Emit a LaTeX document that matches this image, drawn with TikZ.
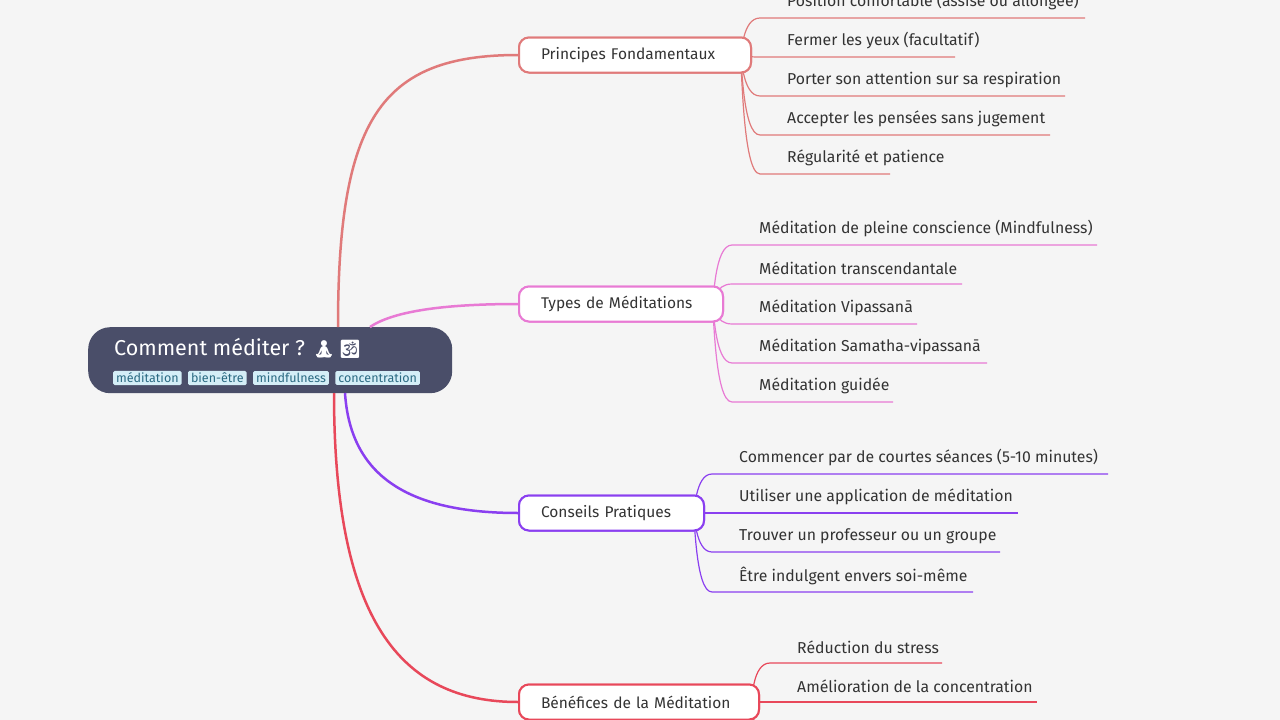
\documentclass[tikz,border=0pt]{standalone}
\usepackage{fontspec}
\setmainfont{Fira Sans}
\newfontfamily\emojifont{Noto Emoji}
\usetikzlibrary{positioning}
\definecolor{bgcol}{RGB}{245,245,245}
\definecolor{rootcol}{RGB}{74,78,105}
\definecolor{tagbg}{RGB}{212,238,247}
\definecolor{tagfg}{RGB}{42,106,130}
\definecolor{txtcol}{RGB}{51,51,51}
\definecolor{salmon}{RGB}{224,122,122}
\definecolor{pinkc}{RGB}{232,122,212}
\definecolor{purplec}{RGB}{138,63,240}
\definecolor{redc}{RGB}{232,72,90}

\tikzset{
  branch/.style={draw=#1,line width=2pt,fill=white,rounded corners=10pt,
    minimum height=35pt,inner xsep=22pt,anchor=west,align=left,text=txtcol,font=\fontsize{15.5}{17}\selectfont},
  leaf/.style={anchor=west,inner sep=0pt,text=txtcol,font=\fontsize{15.8}{18}\selectfont},
  tag/.style={fill=tagbg,text=tagfg,inner xsep=3pt,inner ysep=2pt,rounded corners=1.5pt,
    font=\fontsize{12.5}{14}\selectfont,anchor=west},
  conn/.style={draw=#1,line width=2.5pt},
  twig/.style={draw=#1,line width=1.2pt}
}

\begin{document}
\begin{tikzpicture}[x=1pt,y=-1pt]
  \fill[bgcol] (0,0) rectangle (1280,720);
  \useasboundingbox (0,0) rectangle (1280,720);
  \clip (0,0) rectangle (1280,720);

  % root
  \node[fill=rootcol,rounded corners=22pt,minimum width=364pt,minimum height=66pt,
        anchor=north west,inner sep=0pt] (root) at (88,327) {};
  \node[anchor=west,inner sep=0pt,text=white,font=\fontsize{21.5}{24}\selectfont] (title) at (114,348)
        {Comment méditer ? {\emojifont\fontsize{18}{20}\selectfont 🧘\,🕉}};
  \node[tag] (t1) at (113,378) {méditation};
  \node[tag] (t2) [right=6pt of t1] {bien-être};
  \node[tag] (t3) [right=6pt of t2] {mindfulness};
  \node[tag] (t4) [right=6pt of t3] {concentration};

  % branches
  \coordinate (rP) at (338,327);
  \coordinate (rT) at (370,327);
  \coordinate (rC) at (345,393);
  \coordinate (rB) at (334,393);
  \node[branch=salmon,text width=188pt]  (P) at (518,55)  {Principes Fondamentaux};
  \node[branch=pinkc,text width=160pt]   (T) at (518,304) {Types de Méditations};
  \node[branch=purplec,text width=141pt] (C) at (518,513) {Conseils Pratiques};
  \node[branch=redc,text width=196pt]    (B) at (518,702) {Bénéfices de la Méditation};
  \draw[conn=salmon] (rP) .. controls (338,120) and (380,55) .. (P.west);
  \draw[conn=pinkc] (rT) .. controls (395,310) and (450,304) .. (T.west);
  \draw[conn=purplec] (rC) .. controls (350,470) and (400,513) .. (C.west);
  \draw[conn=redc] (rB) .. controls (334,620) and (400,702) .. (B.west);

  % leaves
  \foreach \i/\y/\xe/\t in {1/2/1085/Position confortable (assise ou allongée),
      2/41/955/Fermer les yeux (facultatif),
      3/80/1065/Porter son attention sur sa respiration,
      4/119/1050/Accepter les pensées sans jugement,
      5/158/890/Régularité et patience}{
    \node[leaf] (p\i) at (787,\y) {\t};
    \coordinate (p\i s) at (760,\y+16);
    \coordinate (p\i e) at (\xe,\y+16);
    \draw[twig=salmon] ([xshift=-12pt]P.east) .. controls (742,55) and (742,\y+16) .. (p\i s) -- (p\i e);
  }
  \foreach \i/\y/\xe/\t in {1/229/1097/Méditation de pleine conscience (Mindfulness),
      2/268/962/Méditation transcendantale,
      3/308/917/Méditation Vipassanā,
      4/347/987/Méditation Samatha-vipassanā,
      5/386/893/Méditation guidée}{
    \node[leaf] (m\i) at (759,\y) {\t};
    \coordinate (m\i s) at (732,\y+16);
    \coordinate (m\i e) at (\xe,\y+16);
    \draw[twig=pinkc] ([xshift=-12pt]T.east) .. controls (714,304) and (714,\y+16) .. (m\i s) -- (m\i e);
  }
  \foreach \i/\y/\xe/\t in {1/458/1108/Commencer par de courtes séances (5-10 minutes),
      2/497/1018/Utiliser une application de méditation,
      3/536/1000/Trouver un professeur ou un groupe,
      4/576/973/Être indulgent envers soi-même}{
    \node[leaf] (c\i) at (739,\y) {\t};
    \coordinate (c\i s) at (712,\y+16);
    \coordinate (c\i e) at (\xe,\y+16);
    \draw[twig=purplec] ([xshift=-12pt]C.east) .. controls (695,513) and (695,\y+16) .. (c\i s) -- (c\i e);
  }
  \foreach \i/\y/\xe/\t in {1/647/942/Réduction du stress,
      2/686/1037/Amélioration de la concentration}{
    \node[leaf] (b\i) at (797,\y) {\t};
    \coordinate (b\i s) at (770,\y+16);
    \coordinate (b\i e) at (\xe,\y+16);
    \draw[twig=redc] ([xshift=-8pt]B.east) .. controls (752,702) and (752,\y+16) .. (b\i s) -- (b\i e);
  }
  \coordinate (b3s) at (770,741);
  \draw[twig=redc] ([xshift=-8pt]B.east) .. controls (752,702) and (752,741) .. (b3s);

  % redraw boxes over the connectors
  \node[branch=salmon,text width=188pt]  at (518,55)  {Principes Fondamentaux};
  \node[branch=pinkc,text width=160pt]   at (518,304) {Types de Méditations};
  \node[branch=purplec,text width=141pt] at (518,513) {Conseils Pratiques};
  \node[branch=redc,text width=196pt]    at (518,702) {Bénéfices de la Méditation};
\end{tikzpicture}
\end{document}
